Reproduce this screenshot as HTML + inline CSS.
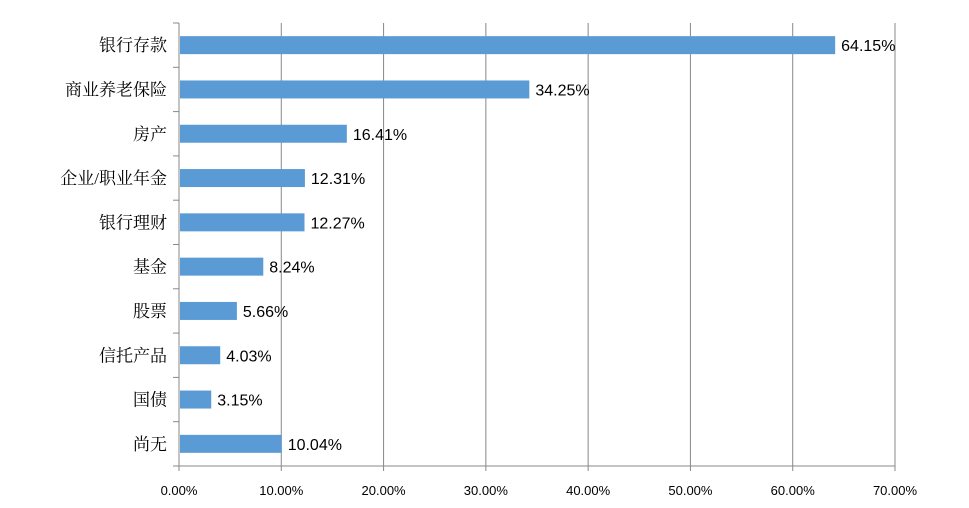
<!DOCTYPE html>
<html><head><meta charset="utf-8"><style>
body{margin:0;background:#fff;}
svg{display:block;}
.cat{font-family:"Liberation Serif","Noto Serif CJK SC","Noto Sans CJK SC",serif;font-size:17px;fill:#000;}
.val{font-family:"Liberation Sans",sans-serif;font-size:16px;fill:#000;}
.tick{font-family:"Liberation Sans",sans-serif;font-size:13px;fill:#000;}
</style></head><body>
<svg id="chart" width="969" height="508"></svg>
<script>
const categories=["银行存款","商业养老保险","房产","企业/职业年金","银行理财","基金","股票","信托产品","国债","尚无"];
const values=[64.15,34.25,16.41,12.31,12.27,8.24,5.66,4.03,3.15,10.04];
const tickValues=[0,10,20,30,40,50,60,70];
const NS="http://www.w3.org/2000/svg";
const svg=document.getElementById("chart");
const x0=179,x1=895,yTop=23,yBot=466,xMax=70;
const xs=v=>x0+(v/xMax)*(x1-x0);
const band=(yBot-yTop)/categories.length;
const yc=i=>yTop+band*(i+0.5);
function mk(tag,attrs){const e=document.createElementNS(NS,tag);for(const k in attrs)e.setAttribute(k,attrs[k]);svg.appendChild(e);return e;}
tickValues.forEach(t=>{
  if(t>0){const g=mk("line",{x1:xs(t),x2:xs(t),y1:yTop,y2:yBot,stroke:"#888","stroke-width":1});
  
  }
  const tk=mk("line",{x1:xs(t),x2:xs(t),y1:yBot,y2:yBot+5,stroke:"#888"});
  
  
  const l=mk("text",{x:xs(t),y:yBot+29,"text-anchor":"middle",class:"tick"});
  l.textContent=t.toFixed(2)+"%";
  
  
});
for(let i=0;i<=categories.length;i++){
  const y=yTop+band*i;
  const tk=mk("line",{x1:x0-6,x2:x0,y1:y,y2:y,stroke:"#888"});
  
  
}
const ax=mk("line",{x1:x0,x2:x0,y1:yTop,y2:yBot,stroke:"#888"});


const bx=mk("line",{x1:x0,x2:x1,y1:yBot,y2:yBot,stroke:"#888"});


categories.forEach((c,i)=>{
  const y=yc(i);
  const b=mk("rect",{x:x0+1,y:y-9,width:xs(values[i])-x0-1,height:18,fill:"#5b9bd5"});
  
  
  const v=mk("text",{x:xs(values[i])+6,y:y+6,class:"val"});
  v.textContent=values[i].toFixed(2)+"%";
  
  
  const l=mk("text",{x:x0-12,y:y+6,"text-anchor":"end",class:"cat"});
  l.textContent=c;
  
  
});
</script>
</body></html>
